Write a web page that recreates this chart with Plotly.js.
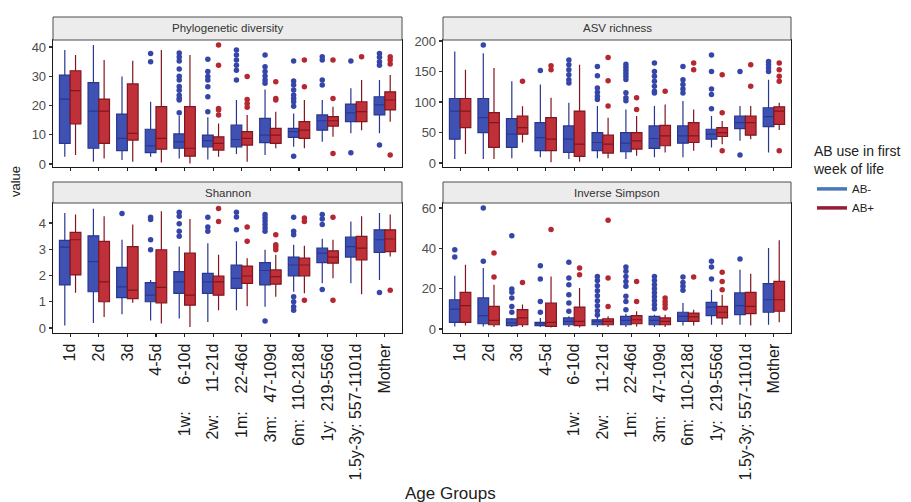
<!DOCTYPE html>
<html><head><meta charset="utf-8">
<script src="https://cdn.plot.ly/plotly-3.0.1.min.js"></script>
<style>html,body{margin:0;padding:0;background:#fff}#chart{width:911px;height:502px}</style>
</head><body><div id="chart"></div>
<script>
// ---------- DATA ----------
const ageGroups = ["1d","2d","3d","4-5d","1w: 6-10d","2w: 11-21d","1m: 22-46d","3m: 47-109d","6m: 110-218d","1y: 219-556d","1.5y-3y: 557-1101d","Mother"];
const groupNames = ["AB-","AB+"];
const metricNames = ["Phylogenetic diversity","ASV richness","Shannon","Inverse Simpson"];

// per age group: [lower whisker, q1, median, q3, upper whisker]
const pdNeg = [[2.5,7.1,22.2,30.4,39],[0.8,5.4,18.1,27.8,40.7],[1.4,4.6,8.8,17.1,29.9],[2.5,3.9,6.2,11.9,21.3],[1.9,5.4,7.6,10.3,16.5],[1.6,5.9,8,9.9,16],[3.4,5.9,8.4,13.3,21.9],[3.1,7.3,9.9,15.6,25.5],[5.9,9.1,11.1,12.2,17.3],[7.6,11.6,14.8,16.8,21.9],[10.5,14.5,17.5,20.5,25.9],[10.5,16.8,20.2,23,28.7]];
const pdPos = [[3.1,13.7,25.1,31.9,37.3],[1.9,7.1,18.1,22.2,35.6],[0.8,8.2,10.5,27.4,35.3],[0.5,5.1,8.8,19.6,39],[0.2,2.7,5.4,19.6,37.3],[2.5,4.8,7.1,9.3,13.9],[0.8,6.5,8.8,11.1,16.8],[5.4,7.1,9.9,12.2,17.9],[5.4,8.8,11.6,14.5,21.9],[9.3,13,14.8,16.2,19.6],[11.6,14.5,17.9,21.3,28.7],[14.5,18.5,21.9,24.7,30.4]];
const pdNegOut = [[],[],[],[37.8,35],[38,36.6,35.2,32.5,30,28.7,26.5,25.2,23.5,22.4,21.9,17.5],[35.8,31.6,29.9,28.7,26.4,23,17.9],[39,37.3,35.6,33.8,32.1,28.7],[37.3,33.3,31.6,30.1,28.7,27.6],[35.2,28.4,27,25.3,23.6,22.4,21.3,19.8,2.7],[36.7,35.6,28.7,27],[35.2,3.9],[37.8,36.5,35,33.8,6.5]];
const pdPosOut = [[],[],[],[],[],[40.7,33.8,19,18.5,16.8],[29.9,22.1,20.7,19.4],[28.1,22.4,21.9],[35.6,26.4],[35.6,22.4,3.6],[36.7],[36.7,35.6,34.2,3.1]];

const asvNeg = [[6.5,39,85.1,105.7,182.7],[6.5,49.9,74.3,105.7,180],[7.6,25.5,47.2,72.6,133.9],[9.2,20.1,41.7,66.1,128.5],[6.5,17.3,39,60.7,98.6],[7.6,20.1,33.6,49.9,93.2],[6.5,18.4,32.5,49.9,87.8],[9.2,23.8,40.1,60.7,93.2],[9.2,32.5,44.4,60.7,101.4],[25.5,39,47.2,55.3,77],[36.3,56.4,66.1,77,93.2],[17.3,59.6,75.9,90.5,136.6]];
const asvPos = [[14.6,58,85.1,105.7,152.8],[6.5,25.5,66.1,82.4,155.6],[33.6,47.2,58,77,93],[1.1,20.1,39,74.3,106.8],[2.2,10.8,30.9,85.1,161],[7.6,16.3,30.9,45.5,74.3],[11.9,22.8,36.3,49.9,77],[17.3,28.2,44.4,61.8,95.9],[20.1,33.6,44.4,66.1,87.8],[30.9,43.4,49.9,58,68.8],[39,45.5,66.1,77,93.2],[54.2,63.4,85.1,92.1,98.6]];
const asvNegOut = [[],[193.5],[],[151.8],[169,161,152.8,144.7,136.6,131.2],[158.3,143.1,123,116,109.5,104],[162,157,152,147,142,137,115,107,102],[163.7,150.1,142,133.9,125.7,117.6,114.9],[158.3,136.6,128.5,121.4,114.9],[177.2,150.1,121.4,112.2,88.9],[150.1,13],[166.4,161,155.6,150.1]];
const asvPosOut = [[],[],[133.9],[159.4,152.8],[],[172.9,135,93.2],[106.8,87.8],[117.6],[163.7,152.8],[144.7,82.4,20.1],[161,125.7],[163.7,152.8,142,133.9,20.1]];

const shNeg = [[0.1,1.64,3.08,3.34,4.38],[0.19,1.38,2.53,3.51,4.54],[0.52,1.16,1.57,2.31,3.36],[0.29,1.0,1.25,1.73,1.83],[0.36,1.32,1.76,2.15,3.1],[0.23,1.32,1.76,2.08,3.23],[0.68,1.51,1.89,2.4,3.3],[0.81,1.64,2.19,2.49,2.98],[1.38,1.98,2.4,2.7,3.17],[1.7,2.49,2.85,3.04,3.4],[1.7,2.7,3.1,3.46,4.06],[1.83,2.88,3.36,3.74,4.38]];
const shPos = [[1.34,2.02,3.36,3.64,4.32],[0.42,1.0,1.76,3.3,4.26],[0.96,1.12,1.44,3.1,3.94],[0.17,0.96,1.55,2.98,4.45],[0.04,0.87,1.25,2.85,4.15],[0.68,1.25,1.76,1.98,2.79],[0.83,1.7,1.98,2.36,2.66],[1.19,1.67,1.96,2.21,2.79],[1.32,1.98,2.4,2.66,3.13],[1.89,2.47,2.7,2.94,3.36],[1.29,2.59,3.04,3.49,4.26],[2.72,2.91,3.39,3.74,4.32]];
const shNegOut = [[],[],[4.36],[4.22,4.13,3.36,2.98],[4.41,4.26,3.97,3.68,3.49],[4.22,3.85,3.68],[4.41,4.23,3.74],[4.32,4.2,4.07,3.94,3.81,3.68,0.27],[4.22,3.68,3.55,1.19,1.0,0.81,0.68],[4.32,4.15,3.94,1.47],[],[1.35]];
const shPosOut = [[],[],[],[],[],[4.55,4.06],[3.85,3.3],[3.55,3.17,3.08,2.98],[4.19,4.06,1.06],[4.22,1.06],[],[1.44]];

const isNeg = [[1.3,3.3,9.9,14.5,26.4],[1.3,2.6,6.6,15.4,30.2],[1,1.7,3,5,5.5],[1,1.7,2.6,3.3,5.5],[1,2.1,3.8,5.5,6.3],[1,2.1,3.8,4.6,6],[1,2.1,4.3,6.3,7.6],[1,2.1,4.3,6.3,7.1],[1.7,3.8,6.3,8.3,12.9],[2.1,6.6,10.9,13.2,19.5],[2.1,7.1,11.6,17.9,29.4],[2.1,8.3,14.5,22.5,40.2]];
const isPos = [[1.7,3.3,11.6,18.2,31.9],[1,2.1,4.3,11.2,22],[1,2.1,5.5,9.6,12.1],[0.7,1.3,3.3,12.9,26.1],[0.7,1.7,3.8,10.9,20.3],[1,2.1,3.8,5.1,6.3],[1.3,2.6,4.6,6.6,8.8],[1,2.1,3.8,5.5,7.1],[1.7,3.8,6,7.9,9.6],[2.1,5.5,8.3,11.2,17],[1.7,7.6,11.2,18.2,27.4],[3.3,8.8,14.5,23.6,44]];
const isNegOut = [[39.3,35.7],[60,33.6],[46.3,19.8,18.2,15.4,11.2,8.3],[31.4,24.8,13.7,8.3],[33.1,25.3,22,17,12.9,8.8],[26.1,24,21.5,19,16.5,14,11.5,9,7],[30.7,28.6,26.1,23.6,21.2,16.2,13.7,9.6],[26.1,24,22,20,18,16,14,12,10],[25.8,23.1,21.2,19.2],[33.6,30.7,24.8],[34.7],[]];
const isPosOut = [[],[37.7,25.8],[23.1],[49.3],[30.2,26.9],[53.9,25.3,11.2],[23.6,13.7],[15.4,13.7,12.1,10.4],[25.8],[28.1,23.6,19.5],[],[]];

// ---------- STYLE ----------
const fillCol = ["#3f52b4", "#bf3038"];
const lineCol = ["#2a378f", "#80161f"];
const ptCol = ["#3546a8", "#b52831"];
const legendCol = ["#4a78b8", "#951c38"];

const panels = [
  {stats: [pdNeg, pdPos], outs: [pdNegOut, pdPosOut], ax: ""},
  {stats: [asvNeg, asvPos], outs: [asvNegOut, asvPosOut], ax: "2"},
  {stats: [shNeg, shPos], outs: [shNegOut, shPosOut], ax: "3"},
  {stats: [isNeg, isPos], outs: [isNegOut, isPosOut], ax: "4"}
];

const dodge = 0.1875, bw = 0.375;
const traces = [];
panels.forEach((p) => {
  [0, 1].forEach((g) => {
    const s = p.stats[g];
    const pos = ageGroups.map((_, i) => i + 1 + (g === 0 ? -dodge : dodge));
    traces.push({
      type: "box", x: pos,
      lowerfence: s.map(r => r[0]), q1: s.map(r => r[1]), median: s.map(r => r[2]),
      q3: s.map(r => r[3]), upperfence: s.map(r => r[4]),
      width: bw, boxpoints: false, whiskerwidth: 0,
      fillcolor: fillCol[g], line: {color: lineCol[g], width: 1.2},
      xaxis: "x" + p.ax, yaxis: "y" + p.ax, showlegend: false, hoverinfo: "skip"
    });
    const ox = [], oy = [];
    p.outs[g].forEach((arr, i) => arr.forEach(v => { ox.push(i + 1 + (g === 0 ? -dodge : dodge)); oy.push(v); }));
    traces.push({
      type: "scatter", mode: "markers", x: ox, y: oy,
      marker: {color: ptCol[g], size: 5.5},
      xaxis: "x" + p.ax, yaxis: "y" + p.ax, showlegend: false, hoverinfo: "skip"
    });
  });
});
groupNames.forEach((n, g) => traces.push({
  type: "scatter", mode: "lines", x: [null], y: [null], name: n,
  line: {color: legendCol[g], width: 3.5}, showlegend: true, hoverinfo: "skip"
}));

// tick labels: pad suffix with spaces (as in the source labels)
const tickFont = "16px 'Liberation Sans'";
const cv = document.createElement("canvas").getContext("2d");
cv.font = tickFont;
const nb = "\u00a0";
const nbW = cv.measureText(nb).width;
const parts = ageGroups.map(l => { const k = l.indexOf(": "); return k < 0 ? null : [l.slice(0, k + 1), l.slice(k + 2)]; });
const maxSuf = Math.max(...parts.filter(Boolean).map(p => cv.measureText(p[1]).width));
const tickText = ageGroups.map((l, i) => {
  const p = parts[i];
  if (!p) return l;
  const n = Math.max(1, Math.round((maxSuf - cv.measureText(p[1]).width) / nbW * 0.6) + 1);
  return p[0] + nb.repeat(n) + p[1];
});

// ---------- LAYOUT ----------
const W = 911, H = 502;
const fx = px => px / W, fy = px => 1 - px / H;
const colX = [[53, 402], [443, 791]];
const rowY = [{strip: [17, 40], plot: [40, 167]}, {strip: [182, 203], plot: [203, 333]}];
const yRanges = [[-1.0, 42.4], [-6.6, 201.6], [-0.19, 4.76], [-1.98, 62.5]];
const yDticks = [10, 50, 1, 20];

const layout = {
  width: W, height: H, margin: {l: 0, r: 0, t: 0, b: 0},
  paper_bgcolor: "#fff", plot_bgcolor: "#fff",
  showlegend: true,
  legend: {
    x: fx(812), y: fy(138), xanchor: "left", yanchor: "top",
    title: {text: "AB use in first<br>week of life", font: {family: "Liberation Sans", size: 14, color: "#222"}},
    font: {family: "Liberation Sans", size: 11.5, color: "#222"},
    bgcolor: "rgba(0,0,0,0)", itemwidth: 30, tracegroupgap: 6
  },
  shapes: [], annotations: []
};

panels.forEach((p, k) => {
  const r = Math.floor(k / 2), c = k % 2;
  const ax = p.ax;
  layout["xaxis" + ax] = {
    domain: [fx(colX[c][0]), fx(colX[c][1])], anchor: "y" + ax,
    range: [0.4, 12.6], tickvals: ageGroups.map((_, i) => i + 1), ticktext: tickText,
    showticklabels: r === 1, tickangle: -90,
    tickfont: {family: "Liberation Sans", size: 16, color: "#1a1a1a"},
    ticks: "outside", ticklen: 3, tickwidth: 1.2, tickcolor: "#222",
    showline: true, linecolor: "#1a1a1a", linewidth: 1.3, mirror: true,
    showgrid: false, zeroline: false, fixedrange: true
  };
  layout["yaxis" + ax] = {
    domain: [fy(rowY[r].plot[1]), fy(rowY[r].plot[0])], anchor: "x" + ax,
    range: yRanges[k], dtick: yDticks[k], tick0: 0,
    tickfont: {family: "Liberation Sans", size: 13, color: "#4d4d4d"},
    ticks: "outside", ticklen: 3, tickwidth: 1.2, tickcolor: "#333",
    showline: true, linecolor: "#1a1a1a", linewidth: 1.3, mirror: true,
    showgrid: false, zeroline: false, fixedrange: true
  };
  layout.shapes.push({
    type: "rect", xref: "paper", yref: "paper",
    x0: fx(colX[c][0]), x1: fx(colX[c][1]), y0: fy(rowY[r].strip[1]), y1: fy(rowY[r].strip[0]),
    fillcolor: "#ececec", line: {color: "#4d4d4d", width: 1}
  });
  layout.annotations.push({
    xref: "paper", yref: "paper", showarrow: false,
    x: (fx(colX[c][0]) + fx(colX[c][1])) / 2, y: (fy(rowY[r].strip[0]) + fy(rowY[r].strip[1])) / 2,
    xanchor: "center", yanchor: "middle", text: metricNames[k],
    font: {family: "Liberation Sans", size: 11.5, color: "#333"}
  });
});

layout.annotations.push({
  xref: "paper", yref: "paper", showarrow: false, x: fx(15), y: fy(182),
  xanchor: "center", yanchor: "middle", textangle: -90, text: "value",
  font: {family: "Liberation Sans", size: 13, color: "#222"}
});
layout.annotations.push({
  xref: "paper", yref: "paper", showarrow: false, x: fx(450), y: fy(493),
  xanchor: "center", yanchor: "middle", text: "Age Groups",
  font: {family: "Liberation Sans", size: 17, color: "#222"}
});

Plotly.newPlot("chart", traces, layout, {displayModeBar: false, staticPlot: true});
</script>
</body></html>
